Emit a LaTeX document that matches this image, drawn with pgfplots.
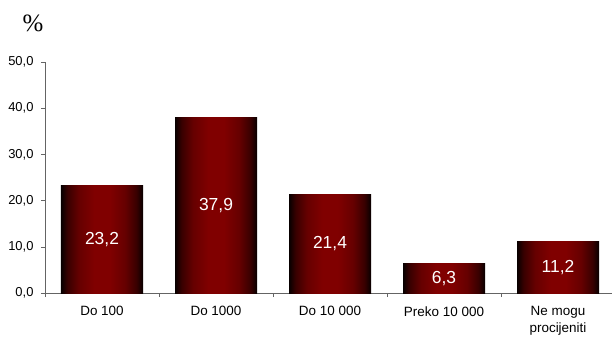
\documentclass[border=0pt]{standalone}
\usepackage{pgfplots}
\pgfplotsset{compat=1.18}
\usepackage{fontspec}
\setmainfont{Liberation Sans}
\newfontfamily\serif{Liberation Serif}
\definecolor{axgray}{RGB}{100,100,100}
% tikz maps the path onto 25bp..75bp of the shading
\pgfdeclarehorizontalshading{barshade}{100bp}{
    rgb(0bp)=(0,0,0);
    rgb(25bp)=(0.03,0,0);
    rgb(29bp)=(0.22,0,0);
    rgb(36bp)=(0.4,0,0);
    rgb(45bp)=(0.5,0,0);
    rgb(55bp)=(0.5,0,0);
    rgb(64bp)=(0.4,0,0);
    rgb(71bp)=(0.22,0,0);
    rgb(75bp)=(0.03,0,0);
    rgb(100bp)=(0,0,0)}

\begin{document}
\begin{tikzpicture}
\begin{axis}[
    at={(0,0)}, anchor=south west,
    scale only axis,
    width=570bp, height=231bp,
    ybar, bar width=82bp, bar shift=0pt,
    xmin=-0.5, xmax=4.5,
    ymin=0, ymax=50,
    axis x line*=bottom,
    axis y line*=left,
    axis line style={axgray, line width=0.6pt},
    tick style={axgray, line width=0.6pt},
    tick align=outside,
    major tick length=4bp,
    xtick={-0.5,0.5,1.5,2.5,3.5,4.5},
    xticklabels={},
    extra x ticks={0,1,2,3,4},
    extra x tick labels={Do 100, Do 1000, Do 10 000, Preko 10 000, Ne mogu\\procijeniti},
    extra x tick style={major tick length=0pt,
        xticklabel style={font=\fontsize{13.5}{17}\selectfont, align=center, anchor=north, yshift=-10bp}},
    ytick={0,10,...,50},
    yticklabel style={font=\fontsize{13}{14}\selectfont, xshift=-4bp, /pgf/number format/.cd, fixed, fixed zerofill, precision=1, use comma},
    yticklabel={\pgfmathprintnumber{\tick}},
    /pgf/number format/assume math mode=true,
    nodes near coords={\pgfmathprintnumber[fixed,fixed zerofill,precision=1,use comma]{\pgfplotspointmeta}},
    visualization depends on=rawy \as \rawy,
    every node near coord/.append style={font=\fontsize{17.5}{20}\selectfont, text=white, anchor=center,
        shift={(axis direction cs:0,-\rawy/2)}},
    bar style/.style={draw=none, shading=barshade},
    clip=false,
]
\addplot[bar style] coordinates {(0, 23.2)};
\addplot[bar style] coordinates {(1, 37.9)};
\addplot[bar style] coordinates {(2, 21.4)};
\addplot[bar style] coordinates {(3, 6.3)};
\addplot[bar style] coordinates {(4, 11.2)};
\end{axis}
\node[font=\serif\fontsize{25}{27}\selectfont] at (-12bp,270bp) {\%};
\pgfresetboundingbox
\path[use as bounding box] (-45bp,-46bp) rectangle (567bp,293bp);
\end{tikzpicture}
\end{document}
